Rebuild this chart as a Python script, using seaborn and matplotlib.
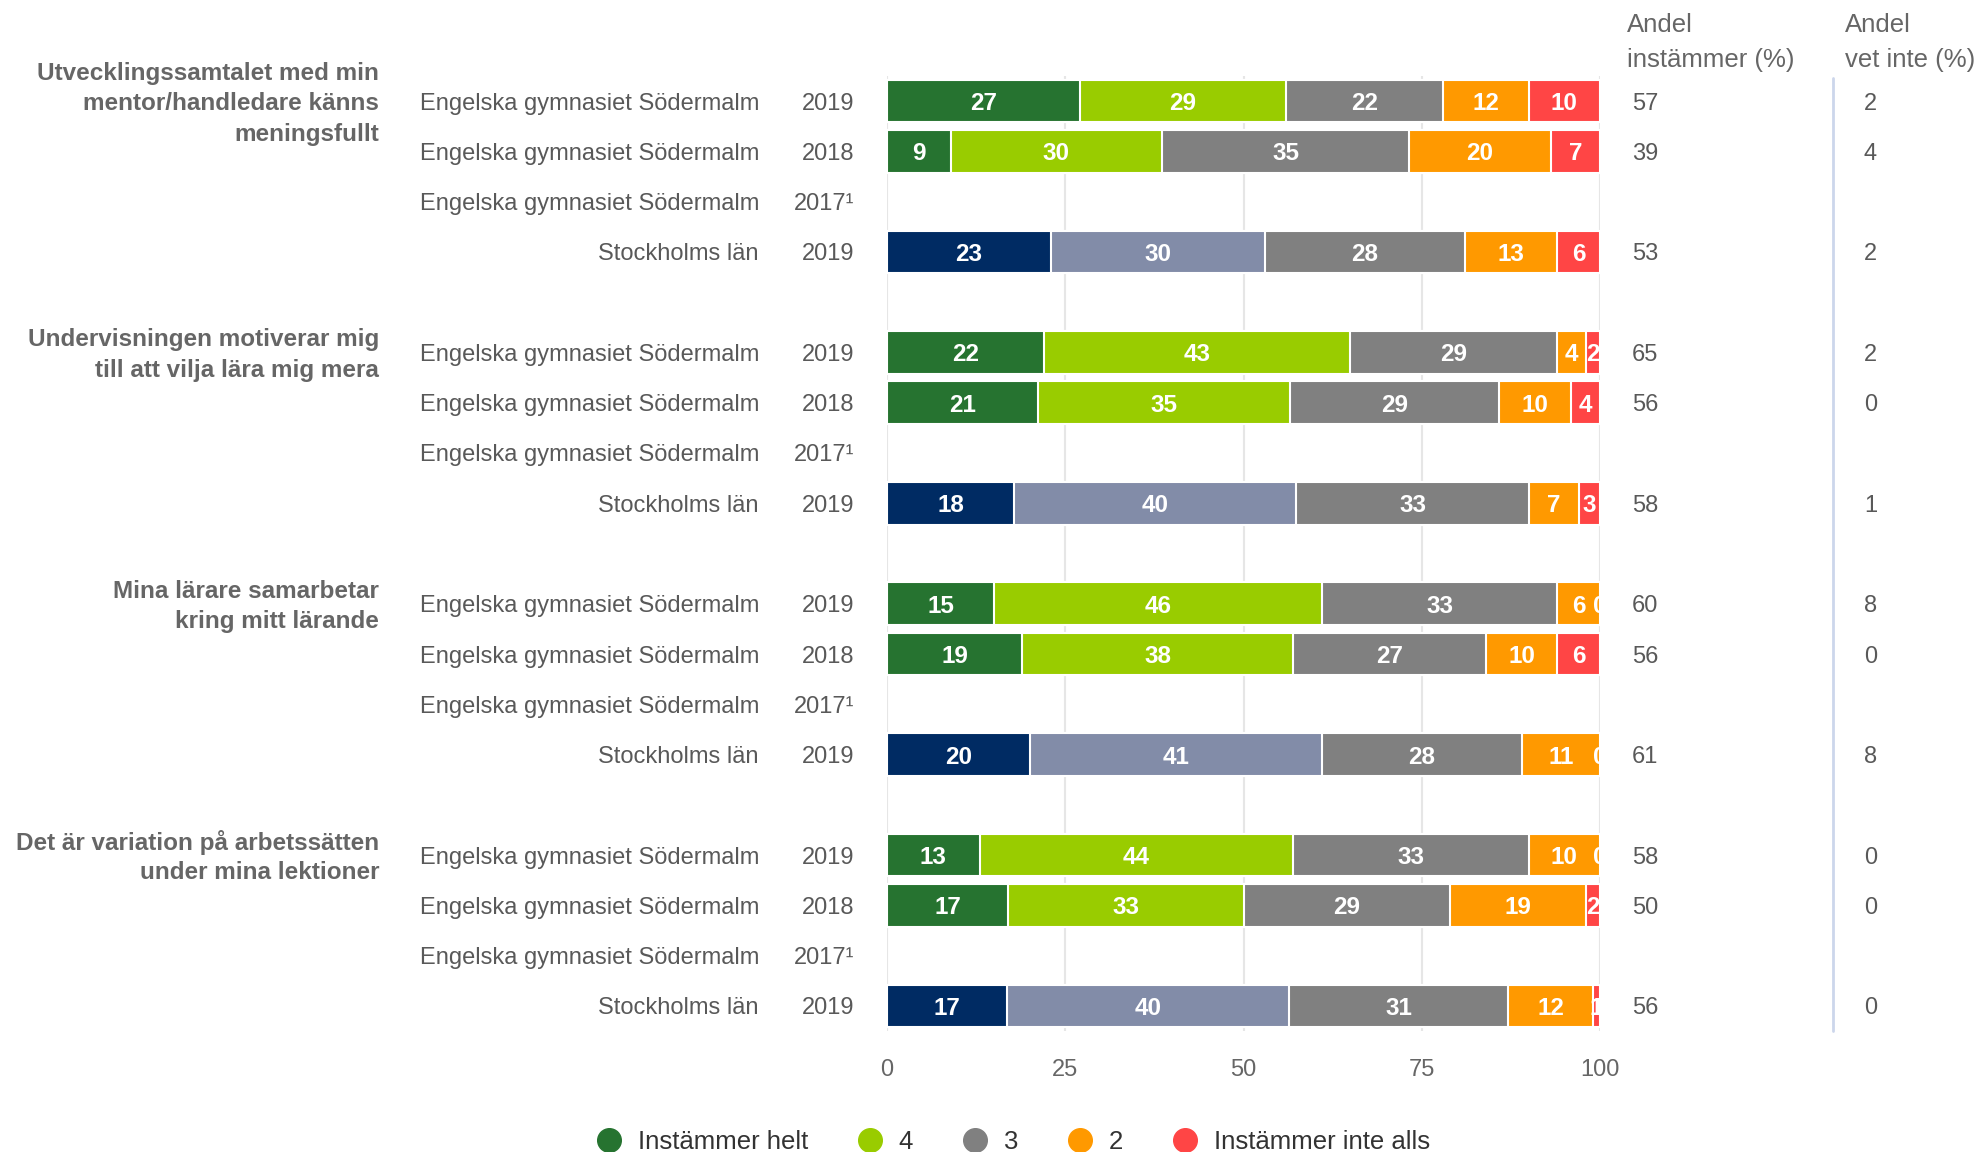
import numpy as np
import pandas as pd
import matplotlib
matplotlib.use("Agg")
import matplotlib.pyplot as plt
from matplotlib import transforms
from matplotlib.lines import Line2D
import seaborn as sns

# ---------------- data ----------------
questions = [
    ["Utvecklingssamtalet med min", "mentor/handledare känns", "meningsfullt"],
    ["Undervisningen motiverar mig", "till att vilja lära mig mera"],
    ["Mina lärare samarbetar", "kring mitt lärande"],
    ["Det är variation på arbetssätten", "under mina lektioner"],
]
row_names = ["Engelska gymnasiet Södermalm", "Engelska gymnasiet Södermalm",
             "Engelska gymnasiet Södermalm", "Stockholms län"]
row_years = ["2019", "2018", "2017¹", "2019"]
row_kind = ["skola", "skola", "skola", "län"]

instammer_helt = [27, 9, None, 23, 22, 21, None, 18, 15, 19, None, 20, 13, 17, None, 17]
svar_4 = [29, 30, None, 30, 43, 35, None, 40, 46, 38, None, 41, 44, 33, None, 40]
svar_3 = [22, 35, None, 28, 29, 29, None, 33, 33, 27, None, 28, 33, 29, None, 31]
svar_2 = [12, 20, None, 13, 4, 10, None, 7, 6, 10, None, 11, 10, 19, None, 12]
instammer_inte_alls = [10, 7, None, 6, 2, 4, None, 3, 0, 6, None, 0, 0, 2, None, 1]
andel_instammer = [57, 39, None, 53, 65, 56, None, 58, 60, 56, None, 61, 58, 50, None, 56]
andel_vet_inte = [2, 4, None, 2, 2, 0, None, 1, 8, 0, None, 8, 0, 0, None, 0]

legend_labels = ["Instämmer helt", "4", "3", "2", "Instämmer inte alls"]
x_ticks = [0, 25, 50, 75, 100]

# colours per layer: (school colour, county colour)
layer_colors = [
    ("#267330", "#002b63"),
    ("#99cc00", "#828ca8"),
    ("#808080", "#808080"),
    ("#ff9900", "#ff9900"),
    ("#ff4545", "#ff4545"),
]

# ---------------- figure ----------------
sns.set_style("white")
plt.rcParams["font.family"] = ["Liberation Sans", "DejaVu Sans"]
TXT = "#595959"
FS = 17

W, H = 1979, 1152
fig = plt.figure(figsize=(W / 100, H / 100), dpi=100)
ax_left, ax_right, ax_top, ax_bot = 887, 1600, 76, 1031
ax = fig.add_axes([ax_left / W, 1 - ax_bot / H, (ax_right - ax_left) / W, (ax_bot - ax_top) / H])

# slots: 4 rows per question + a blank slot between questions
slots = []
rows = []  # (slot_name, q index, r index)
for qi in range(len(questions)):
    for ri in range(4):
        name = f"q{qi}r{ri}"
        slots.append(name)
        rows.append((name, qi, ri))
    if qi < len(questions) - 1:
        slots.append(f"gap{qi}")
slot_pos = {s: i for i, s in enumerate(slots)}

series = [instammer_helt, svar_4, svar_3, svar_2, instammer_inte_alls]
recs = []
for k, (name, qi, ri) in enumerate(rows):
    vals = [s[k] for s in series]
    if vals[0] is None:
        continue
    tot = float(sum(vals))
    cum = np.cumsum(vals) / tot * 100
    recs.append(dict(slot=name, kind=row_kind[ri], vals=vals, cum=cum))

# draw layers from the full bar down to the first segment
for layer in range(4, -1, -1):
    df = pd.DataFrame({
        "slot": [r["slot"] for r in recs],
        "kind": [r["kind"] for r in recs],
        "cum": [r["cum"][layer] for r in recs],
    })
    pal = {"skola": layer_colors[layer][0], "län": layer_colors[layer][1]}
    sns.barplot(data=df, x="cum", y="slot", hue="kind", order=slots,
                hue_order=["skola", "län"], palette=pal, dodge=False,
                saturation=1, orient="h", width=0.85, edgecolor="white",
                linewidth=1.5, errorbar=None, legend=False, ax=ax, zorder=3)

# labels inside segments
for r in recs:
    y = slot_pos[r["slot"]]
    start = 0.0
    for layer in range(5):
        end = r["cum"][layer]
        ax.text((start + end) / 2, y, str(r["vals"][layer]), ha="center",
                va="center_baseline", color="white", fontsize=17.5,
                fontweight="bold", clip_on=True, zorder=5)
        start = end

ax.set_xlim(0, 100)
ax.set_ylim(len(slots) - 0.5, -0.5)
ax.set_xticks(x_ticks)
ax.set_xticklabels([str(t) for t in x_ticks], fontsize=FS, color="#666666")
ax.tick_params(axis="x", length=0, pad=20)
ax.set_yticks(np.arange(-0.5, len(slots), 1.0))
ax.set_yticklabels([])
ax.tick_params(axis="y", length=15, width=1.5, color="#ccd6eb", direction="out")
ax.set_xlabel("")
ax.set_ylabel("")
ax.set_axisbelow(True)
ax.xaxis.grid(True, color="#e6e6e6", linewidth=1.5, zorder=0)
ax.yaxis.grid(False)
for sp in ax.spines.values():
    sp.set_visible(False)

# ---------------- texts ----------------
tr = transforms.blended_transform_factory(fig.transFigure, ax.transData)
px_per_unit = (ax_bot - ax_top) / len(slots)
line_gap = 30.5 / px_per_unit

for k, (name, qi, ri) in enumerate(rows):
    y = slot_pos[name]
    ax.text(759 / W, y, row_names[ri], transform=tr, ha="right",
            va="center_baseline", fontsize=FS, color=TXT)
    ax.text(854 / W, y, row_years[ri], transform=tr, ha="right",
            va="center_baseline", fontsize=FS, color=TXT)
    if andel_instammer[k] is not None:
        ax.text(1632 / W, y, str(andel_instammer[k]), transform=tr, ha="left",
                va="center_baseline", fontsize=FS, color=TXT)
    if andel_vet_inte[k] is not None:
        ax.text(1864 / W, y, str(andel_vet_inte[k]), transform=tr, ha="left",
                va="center_baseline", fontsize=FS, color=TXT)
    if ri == 0:
        lines = questions[qi]
        n = len(lines)
        for i, ln in enumerate(lines):
            ax.text(379 / W, y + (i - (n - 1) / 2) * line_gap, ln, transform=tr,
                    ha="right", va="center_baseline", fontsize=17.5,
                    fontweight="bold", color="#666666")

# column headers
for xpx, l1, l2 in [(1627, "Andel", "instämmer (%)"), (1845, "Andel", "vet inte (%)")]:
    fig.text(xpx / W, 1 - 23 / H, l1, ha="left", va="center_baseline",
             fontsize=18.5, color="#666666")
    fig.text(xpx / W, 1 - 57 / H, l2, ha="left", va="center_baseline",
             fontsize=18.5, color="#666666")

# divider line between the two value columns
fig.add_artist(Line2D([1833 / W, 1833 / W], [1 - 78 / H, 1 - 1031 / H],
                      transform=fig.transFigure, color="#ccd6eb", linewidth=2))

# legend
handles = [Line2D([], [], marker="o", linestyle="none", markersize=17,
                  markerfacecolor=c[0], markeredgecolor=c[0])
           for c in layer_colors]
fig.legend(handles, legend_labels, loc="center", ncol=5,
           bbox_to_anchor=(1013 / W, 1 - 1142 / H), frameon=False,
           fontsize=18.5, labelcolor="#333333", handlelength=1.0,
           handletextpad=0.63, columnspacing=1.9, borderpad=0)

fig.savefig("out.png", dpi=100)
